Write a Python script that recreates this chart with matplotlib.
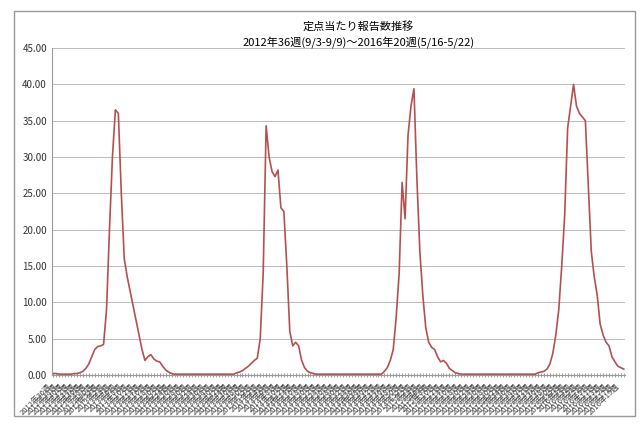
import matplotlib.pyplot as plt
from matplotlib.patches import Rectangle

plt.rcParams['font.family'] = ['Noto Sans CJK JP', 'DejaVu Sans']

# weekly report counts per sentinel, 2012w36 .. 2016w20
season1 = [0.2, 0.2, 0.1, 0.1, 0.1, 0.1, 0.1, 0.2, 0.2, 0.3, 0.5, 0.9, 1.5,
           2.5, 3.5, 3.9, 4.0, 4.2, 9, 20, 30, 36.5, 36.0, 25, 16, 13.5, 11.5,
           9.5, 7.5, 5.5, 3.5, 2.0, 2.5, 2.8, 2.2, 1.9, 1.8, 1.2, 0.7, 0.4, 0.2]
gap1 = [0.1] * 21
season2 = [0.3, 0.4, 0.6, 0.9, 1.2, 1.6, 2.0, 2.3, 5, 14, 34.3, 30, 28, 27.3,
           28.2, 23, 22.5, 15, 6, 4, 4.5, 4, 2, 1, 0.5, 0.3, 0.2]
gap2 = [0.1] * 23
season3 = [0.5, 1, 2, 3.5, 8, 14, 26.5, 21.5, 33, 37, 39.4, 27, 17, 11, 6.5,
           4.5, 3.8, 3.5, 2.5, 1.8, 2.0, 1.6, 0.9, 0.6, 0.3, 0.2]
gap3 = [0.1] * 26
season4 = [0.3, 0.4, 0.5, 0.8, 1.5, 3, 5.5, 9, 15, 22, 34, 37, 40, 37, 36,
           35.5, 35, 26, 17, 13.5, 11, 7, 5.5, 4.5, 4, 2.5, 1.8, 1.2, 1.0,
           0.8, 0.7]
values = season1 + gap1 + season2 + gap2 + season3 + gap3 + season4

weeks = []
for year, first, last in [(2012, 36, 52), (2013, 1, 52), (2014, 1, 52),
                          (2015, 1, 53), (2016, 1, 20)]:
    weeks += [f"{year}年{w}週" for w in range(first, last + 1)]
values = values[:len(weeks)] + [0.1] * (len(weeks) - len(values))

fig = plt.figure(figsize=(6.4, 4.29), dpi=100)
fig.patches.append(Rectangle((0.022, 0.03), 0.97, 0.945, transform=fig.transFigure,
                             fill=False, edgecolor="#999999", linewidth=1))
ax = fig.add_axes([0.081, 0.126, 0.896, 0.762])
x = range(len(weeks))
ax.plot(x, values, color="#b5504e", linewidth=1.2)

ax.set_ylim(0, 45)
ax.set_xlim(-0.5, len(weeks) - 0.5)
ax.set_yticks(range(0, 46, 5))
ax.set_yticklabels([f"{v:.2f}" for v in range(0, 46, 5)], fontsize=7, color="#333333")
ax.yaxis.grid(True, color="#bbbbbb", linewidth=0.7)
ax.set_axisbelow(True)
ax.set_xticks(list(x), minor=True)
ax.set_xticks(list(x)[::2])
ax.set_xticklabels(weeks[::2], rotation=45, ha="right", fontsize=5.5, color="#444444")
ax.tick_params(axis="x", which="both", length=3, color="#999999", direction="inout")
ax.tick_params(axis="y", length=0)
for s in ["top", "right"]:
    ax.spines[s].set_visible(False)
ax.spines["left"].set_color("#999999")
ax.spines["bottom"].set_color("#999999")

fig.text(0.56, 0.93, "定点当たり報告数推移", ha="center", fontsize=8)
fig.text(0.56, 0.895, "2012年36週(9/3-9/9)～2016年20週(5/16-5/22)", ha="center", fontsize=8)

fig.savefig("out.png", dpi=100)
